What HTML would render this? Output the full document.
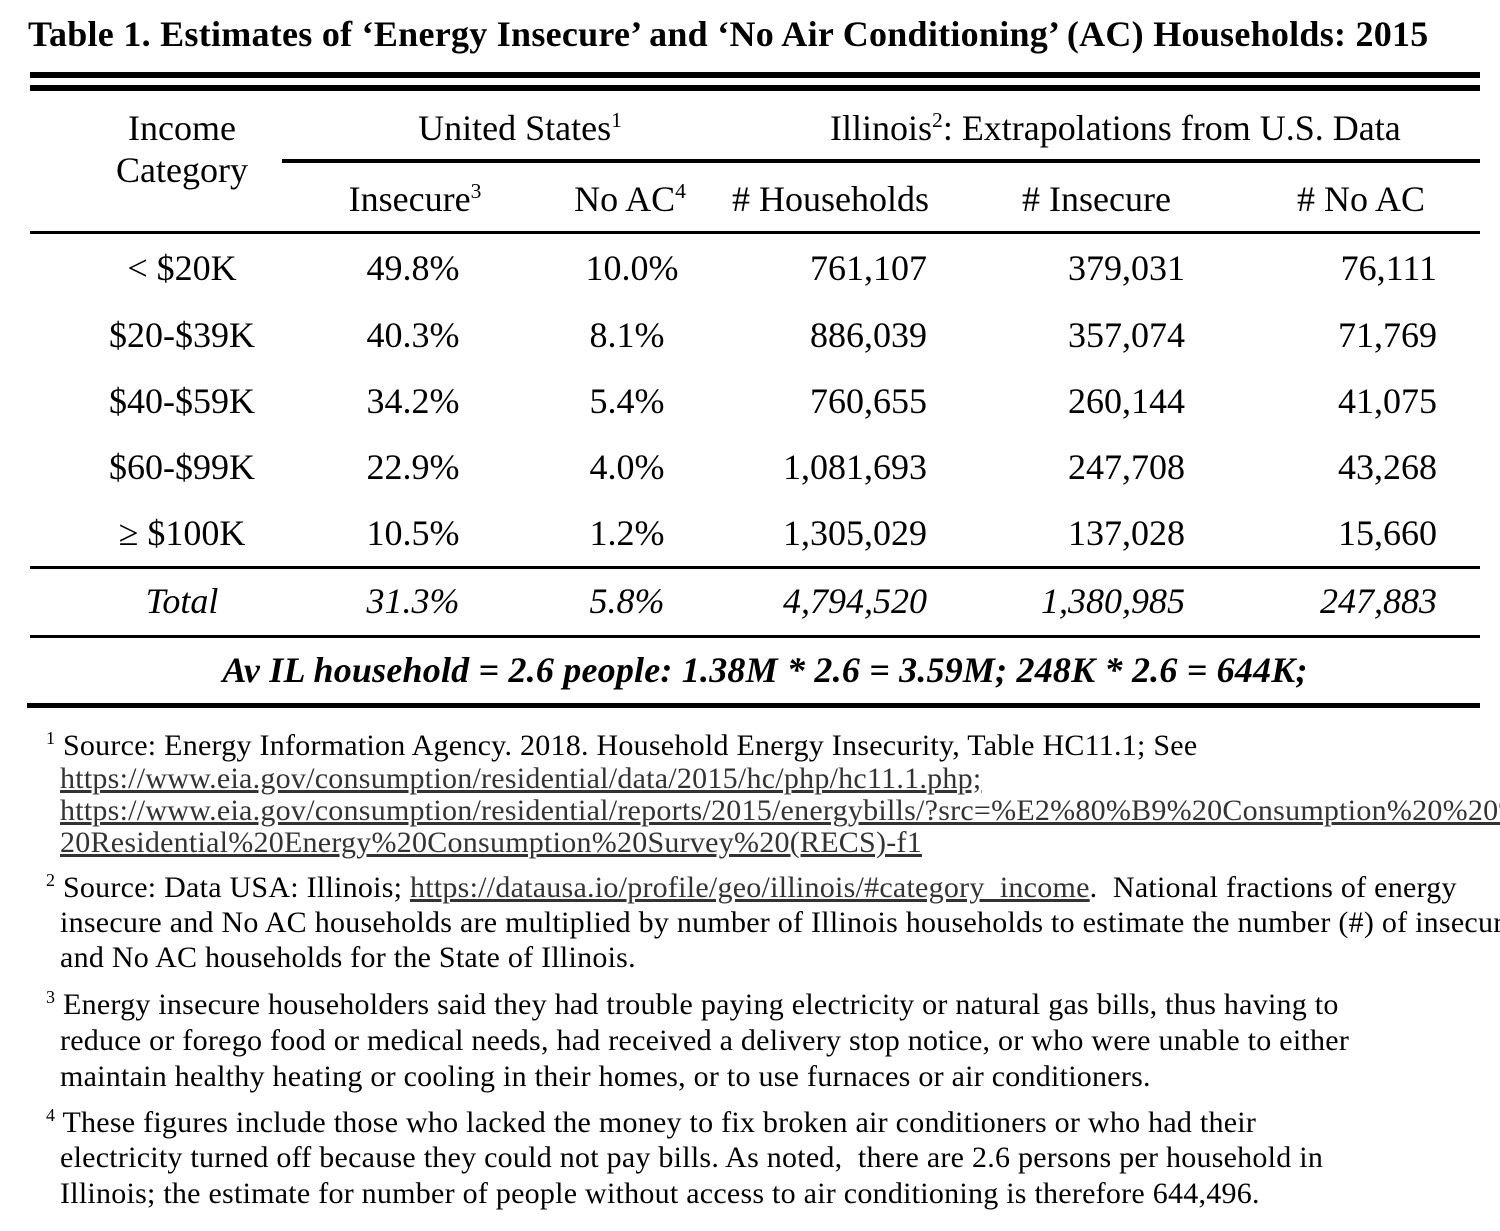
<!DOCTYPE html>
<html><head><meta charset="utf-8">
<style>
body{margin:0;width:1500px;height:1231px;background:#fff;position:relative;overflow:hidden;font-family:"Liberation Serif",serif;color:#000}
.t{position:absolute;white-space:nowrap;height:40px;line-height:40px;font-size:36px}
.c{text-align:center}
.r{text-align:right}
.l{position:absolute;background:#000}
.f{position:absolute;white-space:nowrap;font-size:30px;line-height:32px;left:60px;letter-spacing:0.25px}
.f a{color:#333;text-decoration:underline}
sup{font-size:60%;vertical-align:super;line-height:0}
i{font-style:italic}
</style></head><body>
<div class="t" style="left:28px;top:14px;font-weight:bold;font-size:36px;letter-spacing:0.27px">Table 1. Estimates of ‘Energy Insecure’ and ‘No Air Conditioning’ (AC) Households: 2015</div>
<div class="l" style="left:30px;width:1450px;top:72px;height:6px"></div>
<div class="l" style="left:30px;width:1450px;top:85px;height:6px"></div>

<div class="t c" style="left:72px;width:220px;top:108px">Income</div>
<div class="t c" style="left:72px;width:220px;top:150px">Category</div>
<div class="t c" style="left:370px;width:300px;top:108px">United States<sup>1</sup></div>
<div class="t" style="left:830px;top:108px">Illinois<sup>2</sup>: Extrapolations from U.S. Data</div>
<div class="l" style="left:282px;width:1198px;top:159px;height:4px"></div>
<div class="t c" style="left:295px;width:240px;top:179px">Insecure<sup>3</sup></div>
<div class="t c" style="left:525px;width:210px;top:179px">No AC<sup>4</sup></div>
<div class="t" style="left:732px;top:179px"># Households</div>
<div class="t" style="left:1022px;top:179px"># Insecure</div>
<div class="t" style="left:1297px;top:179px"># No AC</div>
<div class="l" style="left:30px;width:1450px;top:231px;height:3px"></div>

<div class="t c" style="left:72px;width:220px;top:248px">&lt; $20K</div>
<div class="t c" style="left:313px;width:200px;top:248px">49.8%</div>
<div class="t c" style="left:532px;width:200px;top:248px">10.0%</div>
<div class="t r" style="left:627px;width:300px;top:248px">761,107</div>
<div class="t r" style="left:885px;width:300px;top:248px">379,031</div>
<div class="t r" style="left:1137px;width:300px;top:248px">76,111</div>

<div class="t c" style="left:72px;width:220px;top:315px">$20-$39K</div>
<div class="t c" style="left:313px;width:200px;top:315px">40.3%</div>
<div class="t c" style="left:527px;width:200px;top:315px">8.1%</div>
<div class="t r" style="left:627px;width:300px;top:315px">886,039</div>
<div class="t r" style="left:885px;width:300px;top:315px">357,074</div>
<div class="t r" style="left:1137px;width:300px;top:315px">71,769</div>

<div class="t c" style="left:72px;width:220px;top:381px">$40-$59K</div>
<div class="t c" style="left:313px;width:200px;top:381px">34.2%</div>
<div class="t c" style="left:527px;width:200px;top:381px">5.4%</div>
<div class="t r" style="left:627px;width:300px;top:381px">760,655</div>
<div class="t r" style="left:885px;width:300px;top:381px">260,144</div>
<div class="t r" style="left:1137px;width:300px;top:381px">41,075</div>

<div class="t c" style="left:72px;width:220px;top:447px">$60-$99K</div>
<div class="t c" style="left:313px;width:200px;top:447px">22.9%</div>
<div class="t c" style="left:527px;width:200px;top:447px">4.0%</div>
<div class="t r" style="left:627px;width:300px;top:447px">1,081,693</div>
<div class="t r" style="left:885px;width:300px;top:447px">247,708</div>
<div class="t r" style="left:1137px;width:300px;top:447px">43,268</div>

<div class="t c" style="left:72px;width:220px;top:513px">≥ $100K</div>
<div class="t c" style="left:313px;width:200px;top:513px">10.5%</div>
<div class="t c" style="left:527px;width:200px;top:513px">1.2%</div>
<div class="t r" style="left:627px;width:300px;top:513px">1,305,029</div>
<div class="t r" style="left:885px;width:300px;top:513px">137,028</div>
<div class="t r" style="left:1137px;width:300px;top:513px">15,660</div>

<div class="l" style="left:30px;width:1450px;top:566px;height:3px"></div>
<div class="t c" style="left:72px;width:220px;top:581px"><i>Total</i></div>
<div class="t c" style="left:313px;width:200px;top:581px"><i>31.3%</i></div>
<div class="t c" style="left:527px;width:200px;top:581px"><i>5.8%</i></div>
<div class="t r" style="left:627px;width:300px;top:581px"><i>4,794,520</i></div>
<div class="t r" style="left:885px;width:300px;top:581px"><i>1,380,985</i></div>
<div class="t r" style="left:1137px;width:300px;top:581px"><i>247,883</i></div>
<div class="l" style="left:30px;width:1450px;top:635px;height:3px"></div>
<div class="t c" style="left:40px;width:1450px;top:650px;font-weight:bold;font-style:italic;letter-spacing:0.2px">Av IL household = 2.6 people: 1.38M * 2.6 = 3.59M; 248K * 2.6 = 644K;</div>
<div class="l" style="left:27px;width:1453px;top:703px;height:5px"></div>

<div class="f" style="left:46px;top:730px"><sup>1</sup> Source: Energy Information Agency. 2018. Household Energy Insecurity, Table HC11.1; See</div>
<div class="f" style="top:763px"><a>https://www.eia.gov/consumption/residential/data/2015/hc/php/hc11.1.php;</a></div>
<div class="f" style="top:795px"><a>https://www.eia.gov/consumption/residential/reports/2015/energybills/?src=%E2%80%B9%20Consumption%20%20%20%20%20</a></div>
<div class="f" style="top:827px"><a>20Residential%20Energy%20Consumption%20Survey%20(RECS)-f1</a></div>

<div class="f" style="left:46px;top:872px"><sup>2</sup> Source: Data USA: Illinois; <a>https://datausa.io/profile/geo/illinois/#category_income</a>.&nbsp; National fractions of energy</div>
<div class="f" style="top:907px">insecure and No AC households are multiplied by number of Illinois households to estimate the number (#) of insecure</div>
<div class="f" style="top:942px">and No AC households for the State of Illinois.</div>

<div class="f" style="left:46px;top:989px"><sup>3</sup> Energy insecure householders said they had trouble paying electricity or natural gas bills, thus having to</div>
<div class="f" style="top:1025px">reduce or forego food or medical needs, had received a delivery stop notice, or who were unable to either</div>
<div class="f" style="top:1061px">maintain healthy heating or cooling in their homes, or to use furnaces or air conditioners.</div>

<div class="f" style="left:46px;top:1107px"><sup>4</sup> These figures include those who lacked the money to fix broken air conditioners or who had their</div>
<div class="f" style="top:1142px">electricity turned off because they could not pay bills. As noted,&nbsp; there are 2.6 persons per household in</div>
<div class="f" style="top:1178px">Illinois; the estimate for number of people without access to air conditioning is therefore 644,496.</div>
</body></html>
